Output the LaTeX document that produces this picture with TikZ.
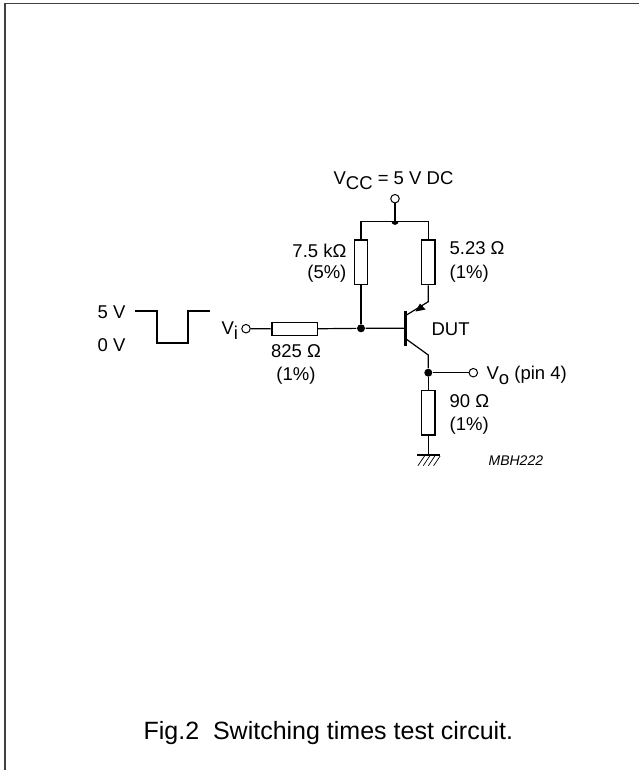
\documentclass[tikz,border=0pt]{standalone}
\usepackage{fontspec}
\setmainfont{Liberation Sans}
\usepackage{tikz}
\newcommand{\lowtext}[1]{\raisebox{-5.5pt}{#1}}
\tikzset{
	mainnode/.style={font=\fontsize{18.5}{21}\selectfont,inner sep=0pt},
	resv/.style={draw,line width=1.2pt,fill=white,minimum width=13.3pt,minimum height=44.7pt,inner sep=0pt},
	resh/.style={draw,line width=1.2pt,fill=white,minimum width=45.3pt,minimum height=13.3pt,inner sep=0pt},
	dotnode/.style={circle,fill=black,minimum size=8pt,inner sep=0pt},
	termnode/.style={circle,draw,line width=1pt,fill=white,minimum size=8.5pt,inner sep=0pt}
}
\begin{document}
\begin{tikzpicture}[x=1pt,y=-1pt,line width=1.2pt]
	\useasboundingbox (0,0) rectangle (639,770);
	% frame
	\draw [line width=1.6pt,black!75] (5,770) -- (5,3.5) -- (639,3.5);
	% supply and emitter branch
	\coordinate (topl) at (361,221.3);
	\coordinate (topr) at (428.3,221.3);
	\coordinate (jtop) at (395,221.3);
	\coordinate (bentr) at (428.3,301.7);
	\coordinate (emit) at (406.5,315);
	\coordinate (coll) at (406.5,339.3);
	\coordinate (bentc) at (428.3,355);
	\coordinate (barup) at (405.7,310.7);
	\coordinate (bardn) at (405.7,345.7);
	\coordinate (base) at (405.7,328.3);
	\coordinate (gnd) at (428.3,455);
	\node [termnode] (vcc) at (395,198.7) {};
	\node [resv] (r1) at (361,262.3) {};
	\node [resv] (r2) at (428.3,262.3) {};
	\node [dotnode] (jbase) at (361,328.3) {};
	\node [dotnode] (jout) at (428.3,372.7) {};
	\node [termnode] (vo) at (473.3,372.7) {};
	\node [resv] (r3) at (428.3,412.6) {};
	\node [termnode] (vi) at (246,328.7) {};
	\node [resh] (r4) at (294.7,329) {};
	\draw (vcc) -- (jtop);
	\fill (391.4,221.3) arc (180:0:3.6);
	\draw (r1.north) -- (topl) -- (topr) -- (r2.north);
	\draw (r1.south) -- (jbase);
	\draw (vi) -- (r4);
	\draw (r4) -- (jbase) -- (base);
	\draw (jout) -- (vo);
	\draw (jout) -- (r3);
	\draw (r3) -- (gnd);
	% transistor
	\draw [line width=3pt] (barup) -- (bardn);
	\draw (r2.south) -- (bentr) -- (emit);
	\draw (coll) -- (bentc) -- (jout);
	\fill (415.5,311.5) -- (420,303.5) -- (425.5,309.5) -- cycle;
	% ground
	\draw [line width=2.6pt] (417.3,455) -- (440,455);
	\foreach \hatch in {0,1,2,3}
	\draw [line width=0.7pt] (424.5+5.2*\hatch,456) -- (418+5.2*\hatch,465.7);
	% pulse
	\draw [line width=1.9pt] (135,311.3) -- (157.3,311.3) -- (157.3,343.3) -- (188.3,343.3) -- (188.3,311.3) -- (210,311.3);
	% labels
	\node [mainnode,anchor=base west] (lvcc) at (333,184) {V\lowtext{CC} = 5 V DC};
	\node [mainnode,anchor=base east] (lr1a) at (347,257) {7.5 kΩ};
	\node [mainnode,anchor=base east] (lr1b) at (347,278) {(5\%)};
	\node [mainnode,anchor=base west] (lr2a) at (449,254) {5.23 Ω};
	\node [mainnode,anchor=base west] (lr2b) at (449,278) {(1\%)};
	\node [mainnode,anchor=base west] (ldut) at (431,335) {DUT};
	\node [mainnode,anchor=base west] (lvo) at (486,379) {V\lowtext{o} (pin 4)};
	\node [mainnode,anchor=base west] (lr3a) at (449,407) {90 Ω};
	\node [mainnode,anchor=base west] (lr3b) at (449,430) {(1\%)};
	\node [mainnode,anchor=base west,font=\fontsize{14}{16}\selectfont\itshape] (lid) at (488,465) {MBH222};
	\node [mainnode,anchor=base west] (l5v) at (97,318) {5 V};
	\node [mainnode,anchor=base west] (l0v) at (97,351) {0 V};
	\node [mainnode,anchor=base west] (lvi) at (221,334) {V\lowtext{i}};
	\node [mainnode,anchor=base] (lr4a) at (296,357) {825 Ω};
	\node [mainnode,anchor=base] (lr4b) at (296,380) {(1\%)};
	\node [mainnode,anchor=base west,font=\fontsize{25}{30}\selectfont] (cap) at (143,739) {Fig.2\ \ Switching times test circuit.};
\end{tikzpicture}
\end{document}
